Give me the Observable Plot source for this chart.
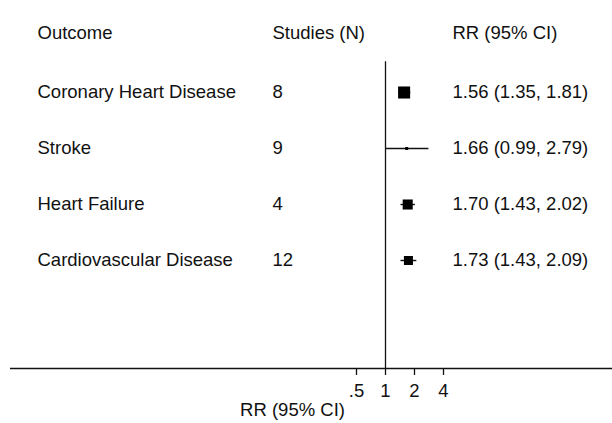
<!DOCTYPE html>
<html>
<head>
<meta charset="utf-8">
<script src="https://cdn.jsdelivr.net/npm/d3@7"></script>
<script src="https://cdn.jsdelivr.net/npm/@observablehq/plot@0.6"></script>
<style>
  html, body { margin: 0; padding: 0; background: #fff; }
  svg { display: block; }
</style>
</head>
<body>
<div id="chart"></div>
<script>
// ---- data ----
const outcomes = ["Coronary Heart Disease", "Stroke", "Heart Failure", "Cardiovascular Disease"];
const studies = [8, 9, 4, 12];
const rr = [1.56, 1.66, 1.70, 1.73];
const lower = [1.35, 0.99, 1.43, 1.43];
const upper = [1.81, 2.79, 2.02, 2.09];
const weights = [144, 9, 100, 81]; // relative box weights
const headers = ["Outcome", "Studies (N)", "RR (95% CI)"];
const tickValues = [0.5, 1, 2, 4];
const tickLabels = [".5", "1", "2", "4"];
const xLabel = "RR (95% CI)";
const nullValue = 1;

const rows = outcomes.map((o, i) => ({
  row: i + 1,
  outcome: o,
  n: studies[i],
  rr: rr[i],
  lo: lower[i],
  hi: upper[i],
  w: weights[i],
  label: `${rr[i].toFixed(2)} (${lower[i].toFixed(2)}, ${upper[i].toFixed(2)})`
}));
const tickLabelMap = new Map(tickValues.map((v, i) => [v, tickLabels[i]]));

const font = "'Liberation Sans', Arial, sans-serif";
const fs = 18.5;
const pxPerDoubling = 29;
const marginLeft = 10, marginRight = 0, width = 612;
const nullPx = 385;
const lo2 = (marginLeft - nullPx) / pxPerDoubling;
const hi2 = (width - marginRight - nullPx) / pxPerDoubling;

const rowGap = 56, firstRowPx = 92, axisPx = 368, height = 423;
const yTop = 1 - firstRowPx / rowGap;
const yBottom = 1 + (axisPx - firstRowPx) / rowGap;
const colDx = [27, 262, 442];

const chart = Plot.plot({
  width, height,
  marginLeft, marginRight,
  marginTop: 0,
  marginBottom: height - axisPx,
  style: { fontFamily: font, fontSize: fs + "px", color: "#111", background: "#fff" },
  x: { type: "log", base: 2, domain: [2 ** lo2, 2 ** hi2] },
  y: { domain: [yTop, yBottom], reverse: true, axis: null },
  r: { type: "sqrt", domain: [0, d3.max(weights)], range: [0, 6.8] },
  marks: [
    Plot.ruleX([nullValue], { y1: 0.45, y2: yBottom, stroke: "#111", strokeWidth: 1.3 }),
    Plot.ruleY([yBottom], { stroke: "#111", strokeWidth: 1.3 }),
    Plot.axisX(tickValues, {
      tickFormat: d => tickLabelMap.get(d),
      tickSize: 7, tickPadding: 8, stroke: "#111", strokeWidth: 1.3,
      fontSize: fs, label: null
    }),
    Plot.link(rows, { x1: "lo", x2: "hi", y1: "row", y2: "row", stroke: "#111", strokeWidth: 1.4 }),
    Plot.dot(rows, { x: "rr", y: "row", r: "w", symbol: "square", fill: "#000", stroke: "none" }),
    Plot.text(rows, { text: "outcome", y: "row", frameAnchor: "left", dx: colDx[0], textAnchor: "start", fontSize: fs, fill: "#111" }),
    Plot.text(rows, { text: d => String(d.n), y: "row", frameAnchor: "left", dx: colDx[1], textAnchor: "start", fontSize: fs, fill: "#111" }),
    Plot.text(rows, { text: "label", y: "row", frameAnchor: "left", dx: colDx[2], textAnchor: "start", fontSize: fs, fill: "#111" }),
    ...headers.map((h, i) => Plot.text([h], { y: [0], frameAnchor: "left", dx: colDx[i], textAnchor: "start", fontSize: fs, fill: "#111", dy: -3 })),
    Plot.text([xLabel], { frameAnchor: "bottom", dx: -19, dy: 47, fontSize: fs, fill: "#111" })
  ]
});
document.getElementById("chart").appendChild(chart);
</script>
</body>
</html>
